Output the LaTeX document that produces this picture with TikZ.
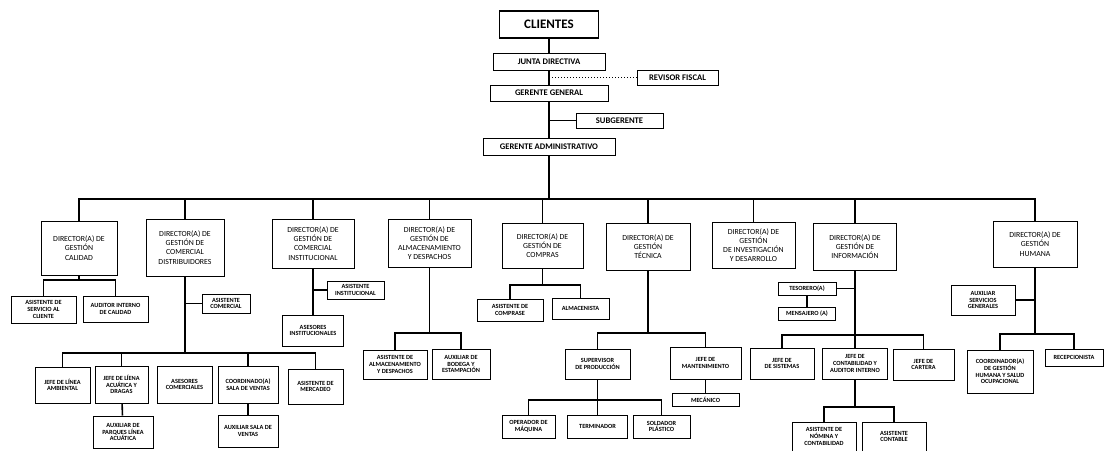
\documentclass[tikz,border=0pt]{standalone}
\usepackage{fontspec}
\setmainfont{Carlito}
\begin{document}
\begin{tikzpicture}[x=1pt,y=-1pt,
  cargo/.style={draw, line width=1pt, align=center, inner sep=0pt, font=\fontsize{6.3}{6.6}\selectfont\bfseries},
  director/.style={cargo, font=\fontsize{7.8}{9.2}\selectfont},
  alto/.style={cargo, font=\fontsize{8.6}{9}\selectfont\bfseries},
  linea/.style={line width=1.6pt}]
\useasboundingbox (0,0) rectangle (1105,450);

% cabeza
\node [alto, line width=1.2pt, minimum width=99, minimum height=27, font=\fontsize{13}{14}\selectfont\bfseries] (cli) at (549,24.5) {CLIENTES};
\node [alto, minimum width=112, minimum height=17] (jd) at (549,61.5) {JUNTA DIRECTIVA};
\node [alto, minimum width=81, minimum height=15] (rev) at (677.5,77.5) {REVISOR FISCAL};
\node [alto, minimum width=118, minimum height=16] (gg) at (549,93) {GERENTE GENERAL};
\node [alto, minimum width=87, minimum height=15] (sub) at (619.5,120.5) {SUBGERENTE};
\node [alto, minimum width=132, minimum height=17] (ga) at (549,146.5) {GERENTE ADMINISTRATIVO};

\draw [linea] (cli) -- (jd);
\draw [linea] (jd) -- (gg);
\draw [linea] (gg) -- (ga);
\draw [dotted, line width=1pt] (rev.west) -- (rev.west -| jd.south);
\draw [linea] (sub.west) -- (sub.west -| gg.south);

% directores
\node [director, minimum width=76, minimum height=54] (dcal) at (79,248) {DIRECTOR(A) DE\\GESTIÓN\\CALIDAD};
\node [director, minimum width=78, minimum height=57] (dcd) at (185,247.5) {DIRECTOR(A) DE\\GESTIÓN DE\\COMERCIAL\\DISTRIBUIDORES};
\node [director, minimum width=82, minimum height=49] (dci) at (313,243.5) {DIRECTOR(A) DE\\GESTIÓN DE\\COMERCIAL\\INSTITUCIONAL};
\node [director, minimum width=83, minimum height=48] (dal) at (429.5,243) {DIRECTOR(A) DE\\GESTIÓN DE\\ALMACENAMIENTO\\Y DESPACHOS};
\node [director, minimum width=81, minimum height=45] (dco) at (542.5,245.5) {DIRECTOR(A) DE\\GESTIÓN DE\\COMPRAS};
\node [director, minimum width=84, minimum height=47] (dte) at (648,246.5) {DIRECTOR(A) DE\\GESTIÓN\\TÉCNICA};
\node [director, minimum width=83, minimum height=46] (din) at (753.5,245) {DIRECTOR(A) DE\\GESTIÓN\\DE INVESTIGACIÓN\\Y DESARROLLO};
\node [director, minimum width=83, minimum height=47] (dinf) at (855,246.5) {DIRECTOR(A) DE\\GESTIÓN DE\\INFORMACIÓN};
\node [director, minimum width=84, minimum height=46] (dhu) at (1035,244) {DIRECTOR(A) DE\\GESTIÓN\\HUMANA};

\coordinate (bus) at (0,199);
\draw [linea] (ga.south) -- (ga.south |- bus);
\draw [linea] (dcal.north) |- (dhu.north |- bus) -- (dhu.north);
\foreach \d in {dcd,dci,dal,dco,dte,din,dinf}
  \draw [linea] (\d.north) -- (\d.north |- bus);

% calidad
\node [cargo, minimum width=65, minimum height=27] (asc) at (43.5,309.5) {ASISTENTE DE\\SERVICIO AL\\CLIENTE};
\node [cargo, minimum width=65, minimum height=26] (aic) at (115.5,309) {AUDITOR INTERNO\\DE CALIDAD};
\coordinate (bcal) at (0,280);
\draw [linea] (dcal.south) -- (dcal.south |- bcal);
\draw [linea] (asc.north) |- (aic.north |- bcal) -- (aic.north);

% comercial distribuidores
\node [cargo, minimum width=48, minimum height=19] (acm) at (226,303.5) {ASISTENTE\\COMERCIAL};
\node [cargo, minimum width=55, minimum height=36] (jla) at (62.5,385) {JEFE DE LÍNEA\\AMBIENTAL};
\node [cargo, minimum width=53, minimum height=37] (jaq) at (121.5,384.5) {JEFE DE LÍENA\\ACUÁTICA Y\\DRAGAS};
\node [cargo, minimum width=55, minimum height=37] (ase) at (184.5,384.5) {ASESORES\\COMERCIALES};
\node [cargo, minimum width=60, minimum height=37] (csv) at (248,384.5) {COORDINADO(A)\\SALA DE VENTAS};
\node [cargo, minimum width=55, minimum height=35] (ame) at (315.5,386.5) {ASISTENTE DE\\MERCADEO};
\node [cargo, minimum width=60, minimum height=32] (apl) at (123,432) {AUXILIAR DE\\PARQUES LÍNEA\\ACUÁTICA};
\node [cargo, minimum width=60, minimum height=32] (asv) at (248,431) {AUXILIAR SALA DE\\VENTAS};
\coordinate (bcd) at (0,353);
\draw [linea] (dcd.south) -- (dcd.south |- bcd);
\draw [linea] (acm.west) -- (acm.west -| dcd.south);
\draw [linea] (jla.north) |- (ame.north |- bcd) -- (ame.north);
\foreach \c in {jaq,csv}
  \draw [linea] (\c.north) -- (\c.north |- bcd);
\draw [linea] (jaq) -- (apl);
\draw [linea] (csv) -- (asv);

% comercial institucional
\node [cargo, minimum width=57, minimum height=18] (ain) at (355.5,290) {ASISTENTE\\INSTITUCIONAL};
\node [cargo, minimum width=61, minimum height=31] (asi) at (313,330.5) {ASESORES\\INSTITUCIONALES};
\draw [linea] (dci) -- (asi);
\draw [linea] (ain.west) -- (ain.west -| dci.south);

% almacenamiento
\node [cargo, minimum width=64, minimum height=29] (aad) at (395,364.5) {ASISTENTE DE\\ALMACENAMIENTO\\Y DESPACHOS};
\node [cargo, minimum width=58, minimum height=30] (abe) at (461,364) {AUXILIAR DE\\BODEGA Y\\ESTAMPACIÓN};
\coordinate (bal) at (0,333);
\draw [linea] (dal.south) -- (dal.south |- bal);
\draw [linea] (aad.north) |- (abe.north |- bal) -- (abe.north);

% compras
\node [cargo, minimum width=66, minimum height=22] (acp) at (510,310) {ASISTENTE DE\\COMPRASE};
\node [cargo, minimum width=57, minimum height=21] (alm) at (580.5,308.5) {ALMACENISTA};
\coordinate (bco) at (0,285);
\draw [linea] (dco.south) -- (dco.south |- bco);
\draw [linea] (acp.north) |- (alm.north |- bco) -- (alm.north);

% tecnica
\node [cargo, minimum width=65, minimum height=30] (spr) at (597.5,364) {SUPERVISOR\\DE PRODUCCIÓN};
\node [cargo, minimum width=71, minimum height=32] (jma) at (705.5,363) {JEFE DE\\MANTENIMIENTO};
\node [cargo, minimum width=67, minimum height=13] (mec) at (705.5,399.5) {MECÁNICO};
\node [cargo, minimum width=53, minimum height=23] (opm) at (528.5,426.5) {OPERADOR DE\\MÁQUINA};
\node [cargo, minimum width=60, minimum height=23] (ter) at (597.5,426.5) {TERMINADOR};
\node [cargo, minimum width=57, minimum height=23] (sol) at (661.5,426.5) {SOLDADOR\\PLÁSTICO};
\coordinate (bte) at (0,333);
\coordinate (bsp) at (0,400);
\draw [linea] (dte.south) -- (dte.south |- bte);
\draw [linea] (spr.north) |- (jma.north |- bte) -- (jma.north);
\draw [linea] (jma) -- (mec);
\draw [linea] (spr.south) -- (spr.south |- bsp);
\draw [linea] (opm.north) |- (sol.north |- bsp) -- (sol.north);
\draw [linea] (ter.north) -- (ter.north |- bsp);

% informacion
\node [cargo, minimum width=58, minimum height=13] (tes) at (807,288.5) {TESORERO(A)};
\node [cargo, minimum width=57, minimum height=13] (men) at (807,313.5) {MENSAJERO (A)};
\node [cargo, minimum width=64, minimum height=31] (jsi) at (782,363.5) {JEFE DE\\DE SISTEMAS};
\node [cargo, minimum width=65, minimum height=31] (jca) at (855,363.5) {JEFE DE\\CONTABILIDAD Y\\AUDITOR INTERNO};
\node [cargo, minimum width=61, minimum height=31] (jcr) at (923.5,364.5) {JEFE DE\\CARTERA};
\node [cargo, minimum width=64, minimum height=29] (anc) at (824,436.5) {ASISTENTE DE\\NÓMINA Y\\CONTABILIDAD};
\node [cargo, minimum width=64, minimum height=29] (act) at (894,436.5) {ASISTENTE\\CONTABLE};
\coordinate (binf) at (0,335);
\coordinate (bca) at (0,407);
\draw [linea] (dinf.south) -- (dinf.south |- binf);
\draw [linea] (tes.east) -- (tes.east -| dinf.south);
\draw [linea] (tes) -- (men);
\draw [linea] (jsi.north) |- (jcr.north |- binf) -- (jcr.north);
\draw [linea] (jca.north) -- (jca.north |- binf);
\draw [linea] (jca.south) -- (jca.south |- bca);
\draw [linea] (anc.north) |- (act.north |- bca) -- (act.north);

% humana
\node [cargo, minimum width=64, minimum height=30] (asg) at (983,300) {AUXILIAR\\SERVICIOS\\GENERALES};
\node [cargo, minimum width=66, minimum height=43] (cgh) at (1000,371.5) {COORDINADOR(A)\\DE GESTIÓN\\HUMANA Y SALUD\\OCUPACIONAL};
\node [cargo, minimum width=58, minimum height=17] (rec) at (1074,357.5) {RECEPCIONISTA};
\coordinate (bhu) at (0,334);
\draw [linea] (dhu.south) -- (dhu.south |- bhu);
\draw [linea] (asg.east) -- (asg.east -| dhu.south);
\draw [linea] (cgh.north) |- (rec.north |- bhu) -- (rec.north);

\end{tikzpicture}
\end{document}
